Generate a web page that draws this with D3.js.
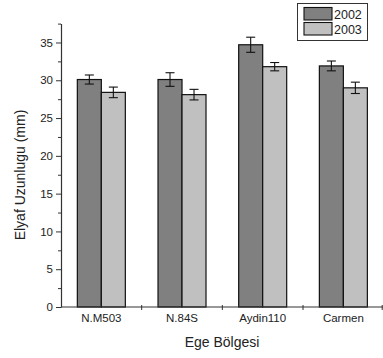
<!DOCTYPE html>
<html>
<head>
<meta charset="utf-8">
<script src="https://cdn.jsdelivr.net/npm/d3@7"></script>
<style>
  html, body { margin: 0; padding: 0; background: #fff; }
  svg { display: block; font-family: "Liberation Sans", Arial, sans-serif; }
</style>
</head>
<body>
<svg id="chart" width="383" height="358"></svg>
<script>
// Fibre length by variety, Aegean region, two seasons
const categories = ["N.M503", "N.84S", "Aydin110", "Carmen"];
const seriesNames = ["2002", "2003"];
const values2002 = [30.1, 30.1, 34.7, 31.9];
const values2003 = [28.4, 28.1, 31.8, 29.0];
const errors2002 = [0.6, 0.9, 1.0, 0.65];
const errors2003 = [0.7, 0.7, 0.55, 0.75];
const yTicks = [0, 5, 10, 15, 20, 25, 30, 35];
const yMinorTicks = [2.5, 7.5, 12.5, 17.5, 22.5, 27.5, 32.5, 37.5];
const colors = ["#808080", "#c0c0c0"];

const svg = d3.select("#chart");
const axisColor = "#333";
const textColor = "#222";

const y = d3.scaleLinear().domain([0, 37.5]).range([307, 23.6]);
const x = d3.scaleBand().domain(categories).range([61, 383.7]).padding(0);
const inner = d3.scaleBand().domain(seriesNames).range([0, 48]).padding(0);
const groupOffset = (x.bandwidth() - 48) / 2;

const series = [
  { name: seriesNames[0], values: values2002, errors: errors2002, color: colors[0] },
  { name: seriesNames[1], values: values2003, errors: errors2003, color: colors[1] }
];

// Bars
series.forEach(s => {
  svg.append("g").selectAll("rect")
    .data(categories)
    .join("rect")
    .attr("x", (c) => x(c) + groupOffset + inner(s.name))
    .attr("y", (c, i) => y(s.values[i]))
    .attr("width", inner.bandwidth())
    .attr("height", (c, i) => y(0) - y(s.values[i]))
    .attr("fill", s.color)
    .attr("stroke", "#111")
    .attr("stroke-width", 1.2);
});

// Error bars
series.forEach(s => {
  const g = svg.append("g").attr("stroke", "#111").attr("stroke-width", 1.1);
  categories.forEach((c, i) => {
    const cx = x(c) + groupOffset + inner(s.name) + inner.bandwidth() / 2;
    const hi = y(s.values[i] + s.errors[i]);
    const lo = y(s.values[i] - s.errors[i]);
    g.append("line").attr("x1", cx).attr("x2", cx).attr("y1", hi).attr("y2", lo);
    g.append("line").attr("x1", cx - 4.5).attr("x2", cx + 4.5).attr("y1", hi).attr("y2", hi);
    g.append("line").attr("x1", cx - 4.5).attr("x2", cx + 4.5).attr("y1", lo).attr("y2", lo);
  });
});

// Y axis
const yAxis = svg.append("g").attr("transform", "translate(61,0)")
  .call(d3.axisLeft(y).tickValues(yTicks).tickSize(5).tickPadding(3).tickSizeOuter(0));
yAxis.select(".domain").attr("stroke", axisColor).attr("stroke-width", 1.2);
yAxis.selectAll(".tick line").attr("stroke", axisColor);
yAxis.selectAll(".tick text").attr("fill", textColor).style("font-size", "11.5px")
  .style("font-family", "'Liberation Sans', Arial, sans-serif");
const yMinor = svg.append("g").attr("transform", "translate(61,0)")
  .call(d3.axisLeft(y).tickValues(yMinorTicks).tickSize(3).tickFormat(""));
yMinor.select(".domain").remove();
yMinor.selectAll(".tick line").attr("stroke", axisColor);

// X axis
const xAxisY = y(0);
svg.append("line").attr("x1", 61).attr("x2", 383.7).attr("y1", xAxisY).attr("y2", xAxisY)
  .attr("stroke", axisColor).attr("stroke-width", 1.2);
svg.append("g").selectAll("line")
  .data(categories.slice(1).concat(["__end"]))
  .join("line")
  .attr("x1", (c) => c === "__end" ? x.range()[1] - 1.5 : x(c))
  .attr("x2", (c) => c === "__end" ? x.range()[1] - 1.5 : x(c))
  .attr("y1", xAxisY - 2).attr("y2", xAxisY + 3)
  .attr("stroke", axisColor);
svg.append("g").selectAll("text")
  .data(categories)
  .join("text")
  .attr("x", (c) => x(c) + x.bandwidth() / 2)
  .attr("y", 322)
  .attr("text-anchor", "middle")
  .attr("fill", textColor)
  .style("font-size", "11.5px")
  .text((c) => c);

// Axis titles
svg.append("text")
  .attr("x", 222).attr("y", 347)
  .attr("text-anchor", "middle")
  .attr("fill", textColor)
  .style("font-size", "14px")
  .text("Ege Bölgesi");
svg.append("text")
  .attr("transform", "translate(25,175) rotate(-90)")
  .attr("text-anchor", "middle")
  .attr("fill", textColor)
  .style("font-size", "14px")
  .text("Elyaf Uzunlugu (mm)");

// Legend
const legend = svg.append("g");
legend.append("rect").attr("x", 297.5).attr("y", 3.5).attr("width", 70).attr("height", 37)
  .attr("fill", "#fff").attr("stroke", "#333").attr("stroke-width", 1);
series.forEach((s, i) => {
  legend.append("rect").attr("x", 304).attr("y", 7.5 + i * 15).attr("width", 28).attr("height", 12.5)
    .attr("fill", s.color).attr("stroke", "#111").attr("stroke-width", 1.1);
  legend.append("text").attr("x", 334).attr("y", 18.5 + i * 15)
    .attr("fill", textColor).style("font-size", "12.5px").text(s.name);
});
</script>
</body>
</html>
